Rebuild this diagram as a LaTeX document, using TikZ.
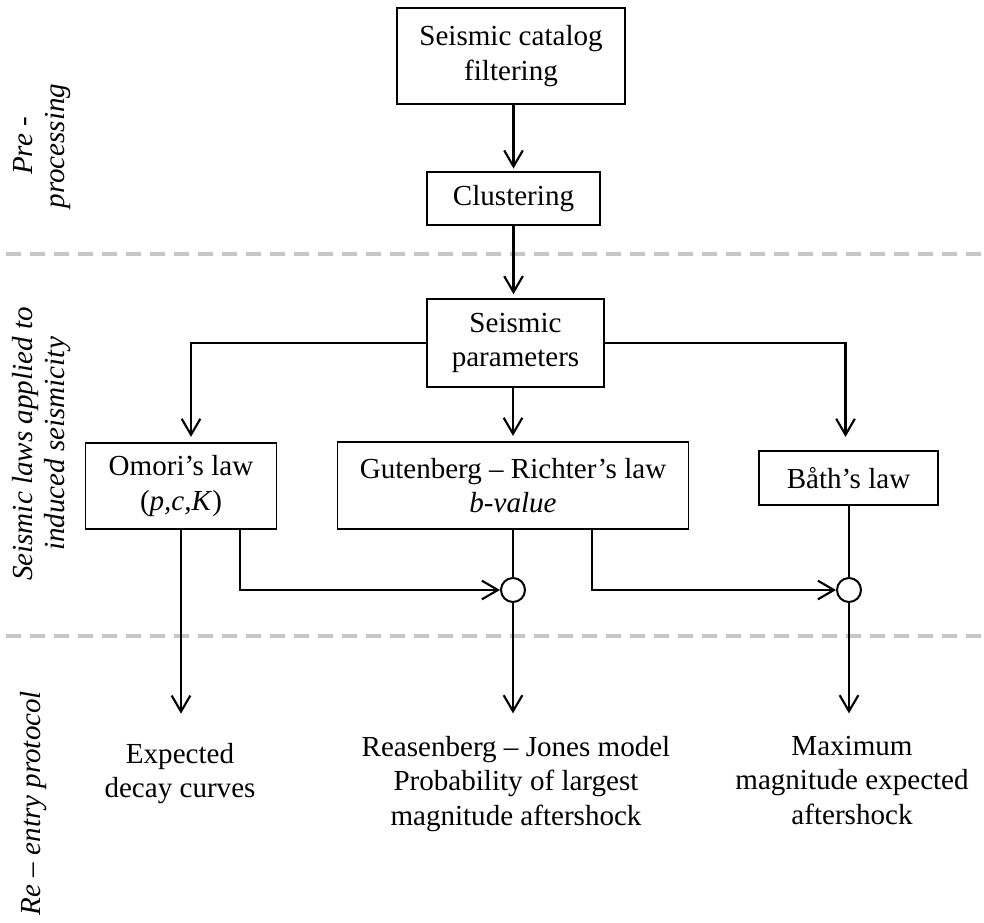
\documentclass[tikz,border=0pt]{standalone}
\usepackage{fontspec}
\setmainfont{Liberation Serif}
\usetikzlibrary{arrows.meta,calc}
\begin{document}
\begin{tikzpicture}[x=0.75pt,y=-0.75pt,
  txt/.style={font=\fontsize{21.8}{25.8}\selectfont,align=center,inner sep=0pt},
  box/.style={txt,draw,line width=1.2pt},
  side/.style={font=\fontsize{21.8}{24}\selectfont\itshape,align=center,inner sep=0pt,rotate=90},
  junc/.style={draw,circle,line width=1.5pt,minimum size=24*0.75pt,inner sep=0pt},
  arr/.style={line width=1.6pt,-{Straight Barb[length=12pt,width=14pt,line width=1.6pt]}},
  ln/.style={line width=1.6pt},
  sep/.style={draw=black!22,line width=3pt,dash pattern=on 11pt off 7pt}]
\useasboundingbox (0,0) rectangle (984,922);
% separators
\draw[sep] (6,254) -- (984,254);
\draw[sep] (6,636) -- (984,636);
% side labels
\node[side] (lpre) at (42,146) {Pre -\\processing};
\node[side] (llaw) at (42,444) {Seismic laws applied to\\induced seismicity};
\node[side] (lre) at (34,803) {Re -- entry protocol};
% boxes
\node[box,minimum width=228*0.75pt,minimum height=96*0.75pt] (cat) at (511,56) {Seismic catalog\\filtering};
\node[box,minimum width=173*0.75pt,minimum height=53*0.75pt] (clu) at (513.5,198.5) {Clustering};
\node[box,minimum width=177*0.75pt,minimum height=88*0.75pt] (par) at (515.5,343) {Seismic\\parameters};
\node[box,minimum width=191*0.75pt,minimum height=86*0.75pt] (omo) at (181,486) {Omori's law\\(\textit{p,c,K})};
\node[box,minimum width=351*0.75pt,minimum height=87*0.75pt] (gr) at (513,485.5) {Gutenberg -- Richter's law\\\textit{b-value}};
\node[box,minimum width=179*0.75pt,minimum height=54*0.75pt] (bat) at (848.5,478) {Båth's law};
% junctions
\node[junc] (c1) at (513,590) {};
\node[junc] (c2) at (849,590) {};
% outputs
\node[txt,anchor=north] (exp) at (180,743) {Expected\\decay curves};
\node[txt,anchor=north] (rj) at (516,736) {Reasenberg -- Jones model\\Probability of largest\\magnitude aftershock};
\node[txt,anchor=north] (mx) at (852,736) {Maximum\\magnitude expected\\aftershock};
% connectors
\draw[arr,shorten >=2pt] (clu.north |- cat.south) -- (clu.north);
\draw[arr,shorten >=3pt] (clu.south) -- (clu.south |- par.north);
\draw[arr,shorten >=4pt] (gr.north |- par.south) -- (gr.north);
\draw[arr,shorten >=4pt] (par.west) -| ($(omo.north)+(10,0)$);
\draw[arr,shorten >=10pt] (par.east) -| ($(bat.north)+(-3,0)$);
\draw[ln] (gr.south) -- (c1.north);
\draw[arr] ($(omo.south)+(59,0)$) |- (c1.west);
\draw[ln] ($(gr.south)+(79,0)$) |- ($(c2.west)+(-14,0)$);
\draw[arr] ($(c2.west)+(-14,0)$) -- (c2.west);
\draw[ln] (c2.north |- bat.south) -- (c2.north);
\draw[arr,shorten >=22pt] (omo.south) -- (omo.south |- exp.north);
\draw[arr,shorten >=17pt] (c1.south) -- (c1.south |- rj.north);
\draw[arr,shorten >=17pt] (c2.south) -- (c2.south |- mx.north);
\end{tikzpicture}
\end{document}
